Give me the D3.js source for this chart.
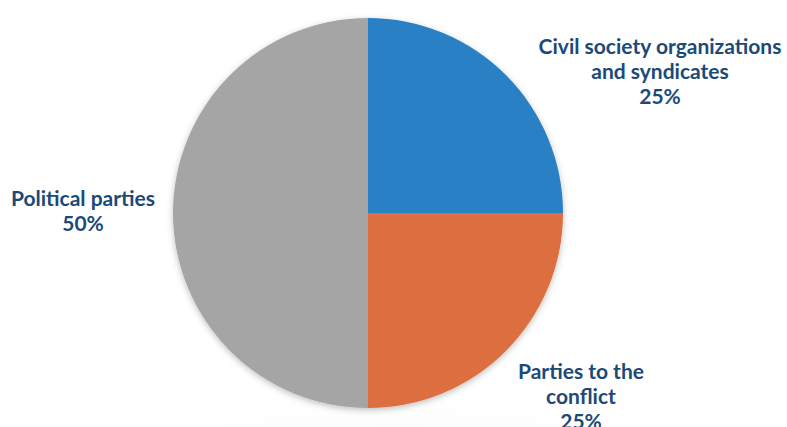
<!DOCTYPE html>
<html>
<head>
<meta charset="utf-8">
<script src="https://cdn.jsdelivr.net/npm/d3@7"></script>
<style>
  body { margin: 0; background: #fff; }
  svg { display: block; }
</style>
</head>
<body>
<svg></svg>
<script>
// chart values
let categories = ["Civil society organizations and syndicates", "Parties to the conflict", "Political parties"];
let shares = [25, 25, 50];
let colors = ["#2a80c5", "#dc6e40", "#a5a5a5"];
// label lines as shown in the picture
let labelLines = [
    ["Civil society organizations", "and syndicates", "25%"],
    ["Parties to the", "conflict", "25%"],
    ["Political parties", "50%"]
];

function piechart(){
    let width = 787;
    let height = 427;
    let cx = 368, cy = 213, radius = 195;

    let svg = d3.select("svg")
        .attr("width", width)
        .attr("height", height);

    let defs = svg.append("defs");
    let shadow = defs.append("filter").attr("id", "shadow")
        .attr("x", "-10%").attr("y", "-10%").attr("width", "120%").attr("height", "120%");
    shadow.append("feDropShadow")
        .attr("dx", 0).attr("dy", 2).attr("stdDeviation", 3)
        .attr("flood-color", "#000").attr("flood-opacity", 0.25);

    let grad = defs.append("radialGradient").attr("id", "bgglow");
    grad.append("stop").attr("offset", "0%").attr("stop-color", "#eef8ee").attr("stop-opacity", 0.9);
    grad.append("stop").attr("offset", "100%").attr("stop-color", "#f6fbf6").attr("stop-opacity", 0);

    // faint background arc at the bottom
    svg.append("ellipse")
        .attr("cx", 400).attr("cy", 520)
        .attr("rx", 420).attr("ry", 140)
        .style("fill", "url(#bgglow)");

    let pie = d3.pie().sort(null).value(d => d);
    let arc = d3.arc().innerRadius(0).outerRadius(radius);

    let g = svg.append("g")
        .attr("transform", `translate(${cx},${cy})`)
        .attr("filter", "url(#shadow)");

    g.selectAll("path")
        .data(pie(shares))
        .enter()
        .append("path")
        .attr("d", arc)
        .style("fill", (d, i) => colors[i]);

    // label anchors (centre of first line baseline)
    let labelPos = [[660, 54], [581, 379], [83, 206]];
    let lineHeight = 25;

    labelLines.forEach((lines, i) => {
        let t = svg.append("text")
            .attr("x", labelPos[i][0])
            .attr("y", labelPos[i][1])
            .attr("text-anchor", "middle")
            .style("font-family", "Lato, 'Open Sans', sans-serif")
            .style("font-weight", "bold")
            .style("font-size", "21px")
            .style("fill", "#1b4a78");
        lines.forEach((s, j) => {
            t.append("tspan")
                .attr("x", labelPos[i][0])
                .attr("dy", j === 0 ? 0 : lineHeight)
                .text(s);
        });
    });
}
piechart();
</script>
</body>
</html>
